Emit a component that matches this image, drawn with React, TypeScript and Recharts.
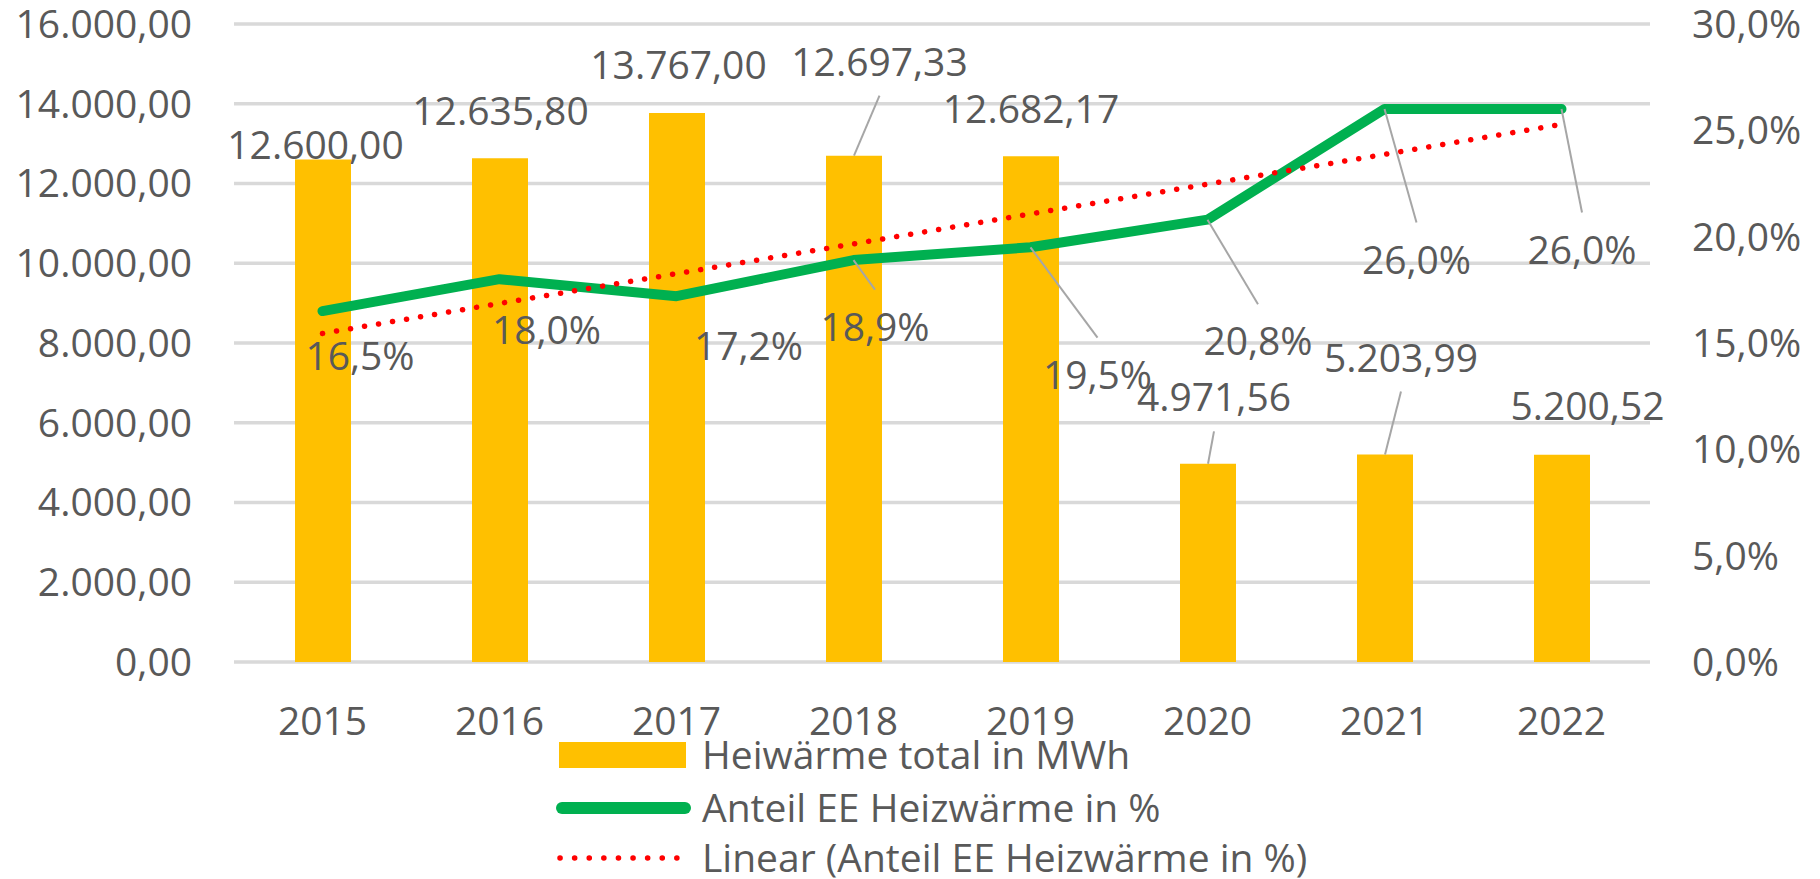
import React from 'react';
import { ComposedChart, Bar, Line, XAxis, YAxis, CartesianGrid, LabelList, Legend } from 'recharts';

// ---- data ----
const years = ['2015', '2016', '2017', '2018', '2019', '2020', '2021', '2022'];
const heatTotal = [12600.0, 12635.8, 13767.0, 12697.33, 12682.17, 4971.56, 5203.99, 5200.52];
const eeShare = [16.5, 18.0, 17.2, 18.9, 19.5, 20.8, 26.0, 26.0];
const eeTrend = [15.45, 16.86, 18.26, 19.66, 21.07, 22.47, 23.87, 25.28];
const leftTicks = [0, 2000, 4000, 6000, 8000, 10000, 12000, 14000, 16000];
const rightTicks = [0, 5, 10, 15, 20, 25, 30];
const seriesNames = ['Heiwärme total in MWh', 'Anteil EE Heizwärme in %', 'Linear (Anteil EE Heizwärme in %)'];

// ---- label placement (layout, offsets of label centre from anchor) ----
const barLabelOffsets: number[][] = [[-7.5, -15], [0.5, -47.5], [1.5, -48.5], [25.5, -94], [0, -47.7], [6, -66.4], [16, -97], [25.5, -49]];
const barLeader = [false, false, false, true, false, true, true, false];
const lineLabelOffsets: number[][] = [[37.5, 44.6], [47, 50.5], [72, 50.2], [21.5, 66.6], [67, 127.4], [50.5, 121.7], [32, 150.5], [20.5, 140.5]];
const lineLeader = [false, false, false, true, true, true, true, true];

const data = years.map((year, i) => ({ year, heat: heatTotal[i], share: eeShare[i], trend: eeTrend[i] }));

const FONT = '"Open Sans", "Liberation Sans", sans-serif';
const FS = 39;
const TXT = '#595959';
const LEADER = '#a6a6a6';

const fmtDe = (v: number) => {
  const [int, dec] = v.toFixed(2).split('.');
  return int.replace(/\B(?=(\d{3})+(?!\d))/g, '.') + ',' + dec;
};
const fmtPct = (v: number) => v.toFixed(1).replace('.', ',') + '%';

const BarLabel = (props: any) => {
  const { x, y, width, value, index } = props;
  const ax = Number(x) + Number(width) / 2;
  const ay = Number(y);
  const [dx, dy] = barLabelOffsets[index];
  const cx = ax + dx;
  const cy = ay + dy;
  return (
    <g>
      {barLeader[index] && (
        <line x1={ax} y1={ay} x2={cx} y2={cy + 34} stroke={LEADER} strokeWidth={2} />
      )}
      <text x={cx} y={cy} dy="0.36em" textAnchor="middle" fontSize={FS} fontFamily={FONT} fill={TXT}>
        {fmtDe(Number(value))}
      </text>
    </g>
  );
};

const LineLabel = (props: any) => {
  const { x, y, value, index } = props;
  const ax = Number(x);
  const ay = Number(y);
  const [dx, dy] = lineLabelOffsets[index];
  const cx = ax + dx;
  const cy = ay + dy;
  return (
    <g>
      {lineLeader[index] && (
        <line x1={ax} y1={ay} x2={cx} y2={cy - 37} stroke={LEADER} strokeWidth={2} />
      )}
      <text x={cx} y={cy} dy="0.36em" textAnchor="middle" fontSize={FS} fontFamily={FONT} fill={TXT}>
        {fmtPct(Number(value))}
      </text>
    </g>
  );
};

const renderLegend = () => (
  <svg width={800} height={171} style={{ display: 'block', overflow: 'visible' }}>
    <rect x={9} y={34} width={127} height={26} fill="#ffc000" />
    <text x={152} y={47} dy="0.36em" fontSize={FS} fontFamily={FONT} fill={TXT}>{seriesNames[0]}</text>
    <line x1={12} y1={100} x2={135} y2={100} stroke="#00b050" strokeWidth={12} strokeLinecap="round" />
    <text x={152} y={100} dy="0.36em" fontSize={FS} fontFamily={FONT} fill={TXT}>{seriesNames[1]}</text>
    <line x1={10} y1={150} x2={130} y2={150} stroke="#ff0000" strokeWidth={5.5} strokeLinecap="round" strokeDasharray="0.1 14.5" />
    <text x={152} y={150} dy="0.36em" fontSize={FS} fontFamily={FONT} fill={TXT}>{seriesNames[2]}</text>
  </svg>
);

const tickStyle = { fill: TXT, fontSize: FS, fontFamily: FONT };

export default function App() {
  return (
    <div style={{ position: 'absolute', left: 0, top: 0, width: 1820, height: 879, background: '#fff' }}>
      <ComposedChart width={1820} height={879} data={data} margin={{ top: 24, right: 0, bottom: 0, left: 0 }}>
        <CartesianGrid yAxisId="left" vertical={false} stroke="#d9d9d9" strokeWidth={3.5} />
        <XAxis
          dataKey="year"
          axisLine={false}
          tickLine={false}
          tickSize={0}
          tickMargin={45}
          height={217}
          tick={tickStyle}
          interval={0}
        />
        <YAxis
          yAxisId="left"
          orientation="left"
          width={234}
          domain={[0, 16000]}
          ticks={leftTicks}
          tickFormatter={(v: number) => fmtDe(v)}
          axisLine={false}
          tickLine={false}
          tickSize={0}
          tickMargin={42}
          tick={tickStyle}
          interval={0}
        />
        <YAxis
          yAxisId="right"
          orientation="right"
          width={170}
          domain={[0, 30]}
          ticks={rightTicks}
          tickFormatter={(v: number) => fmtPct(v)}
          axisLine={false}
          tickLine={false}
          tickSize={0}
          tickMargin={42}
          tick={tickStyle}
          interval={0}
        />
        <Bar yAxisId="left" dataKey="heat" name={seriesNames[0]} fill="#ffc000" barSize={56} isAnimationActive={false}>
          <LabelList dataKey="heat" content={BarLabel} />
        </Bar>
        <Line
          yAxisId="right"
          dataKey="share"
          name={seriesNames[1]}
          stroke="#00b050"
          strokeWidth={10}
          strokeLinejoin="round"
          strokeLinecap="round"
          dot={false}
          activeDot={false}
          isAnimationActive={false}
        >
          <LabelList dataKey="share" content={LineLabel} />
        </Line>
        <Line
          yAxisId="right"
          dataKey="trend"
          name={seriesNames[2]}
          stroke="#ff0000"
          strokeWidth={5.5}
          strokeLinecap="round"
          strokeDasharray="0.1 14.1"
          dot={false}
          activeDot={false}
          isAnimationActive={false}
        />
        <Legend
          layout="vertical"
          align="center"
          verticalAlign="middle"
          wrapperStyle={{ left: 550, top: 708, width: 800, height: 171 }}
          content={renderLegend}
        />
      </ComposedChart>
    </div>
  );
}
